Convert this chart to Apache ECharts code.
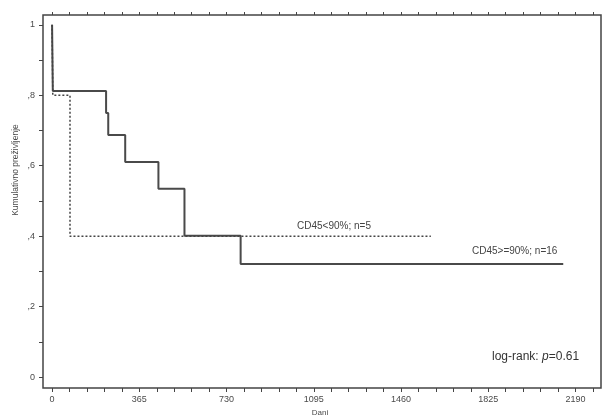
<!DOCTYPE html>
<html>
<head>
<meta charset="utf-8">
<script src="https://cdn.jsdelivr.net/npm/echarts@6/dist/echarts.min.js"></script>
<style>
  html, body { margin: 0; padding: 0; background: #fff; }
  #chart { width: 603px; height: 417px; }
</style>
</head>
<body>
<div id="chart"></div>
<script>
// Kaplan–Meier survival, days since start
const highGroupDays = [0, 1, 2, 3, 226, 235, 306, 445, 554, 789, 2139];
const highGroupSurv = [1, 0.9375, 0.875, 0.8125, 0.75, 0.6875, 0.611, 0.535, 0.401, 0.321, 0.321];
const lowGroupDays = [0, 3, 75, 1585];
const lowGroupSurv = [1, 0.8, 0.4, 0.4];

const xTickLabels = [0, 365, 730, 1095, 1460, 1825, 2190];
const xMinorTicks = [];
for (let d = 0; d <= 2190 + 73; d += 73) xMinorTicks.push(d);
const yTickLabels = [0, 0.2, 0.4, 0.6, 0.8, 1];
const yMinorTicks = [0, 0.1, 0.2, 0.3, 0.4, 0.5, 0.6, 0.7, 0.8, 0.9, 1];

const pairs = (xs, ys) => xs.map((x, i) => [x, ys[i]]);

const frameColor = '#444';
const textColor = '#4a4a4a';

const chart = echarts.init(document.getElementById('chart'), null, { renderer: 'canvas' });

chart.setOption({
  animation: false,
  backgroundColor: '#fff',
  grid: { left: 43, right: 2, top: 15, bottom: 29, show: true, borderColor: frameColor, borderWidth: 1.5 },
  xAxis: [
    {
      type: 'value', position: 'bottom', min: -38, max: 2297,
      axisLine: { show: false, onZero: false },
      splitLine: { show: false },
      axisTick: { show: true, length: 4, inside: false, customValues: xMinorTicks, lineStyle: { color: frameColor, width: 1 } },
      axisLabel: { customValues: xTickLabels, margin: 7, fontSize: 9, color: textColor, fontFamily: 'Liberation Sans', formatter: v => String(v) }
    },
    {
      type: 'value', position: 'top', min: -38, max: 2297,
      axisLine: { show: false, onZero: false },
      splitLine: { show: false },
      axisTick: { show: true, length: 3, inside: false, customValues: xMinorTicks, lineStyle: { color: frameColor, width: 1 } },
      axisLabel: { show: false }
    }
  ],
  yAxis: {
    type: 'value', min: -0.031, max: 1.028,
    axisLine: { show: false, onZero: false },
    splitLine: { show: false },
    axisTick: { show: true, length: 4, customValues: yMinorTicks, lineStyle: { color: frameColor, width: 1 } },
    axisLabel: {
      customValues: yTickLabels, margin: 8, fontSize: 9, color: textColor, fontFamily: 'Liberation Sans',
      formatter: v => (v === 0 ? '0' : v === 1 ? '1' : ',' + Math.round(v * 10))
    }
  },
  series: [
    {
      name: 'CD45>=90%', type: 'line', step: 'end', xAxisIndex: 0,
      data: pairs(highGroupDays, highGroupSurv),
      showSymbol: false, symbol: 'none',
      lineStyle: { color: '#4a4a4a', width: 2 }
    },
    {
      name: 'CD45<90%', type: 'line', step: 'end', xAxisIndex: 0,
      data: pairs(lowGroupDays, lowGroupSurv),
      showSymbol: false, symbol: 'none',
      lineStyle: { color: '#444', width: 1.5, type: [2, 2] }
    }
  ],
  graphic: [
    { type: 'text', x: 297, y: 226, style: { text: 'CD45<90%; n=5', fontSize: 10, fill: '#444', fontFamily: 'Liberation Sans', verticalAlign: 'middle' } },
    { type: 'text', x: 472, y: 251, style: { text: 'CD45>=90%; n=16', fontSize: 10, fill: '#444', fontFamily: 'Liberation Sans', verticalAlign: 'middle' } },
    {
      type: 'text', x: 492, y: 357,
      style: {
        text: '{a|log-rank: }{b|p}{a|=0.61}', verticalAlign: 'middle',
        rich: {
          a: { fontSize: 12, fill: '#333', fontFamily: 'Liberation Sans' },
          b: { fontSize: 12, fill: '#333', fontFamily: 'Liberation Sans', fontStyle: 'italic' }
        }
      }
    },
    { type: 'text', x: 320, y: 413, style: { text: 'Dani', fontSize: 8, fill: textColor, fontFamily: 'Liberation Sans', align: 'center', verticalAlign: 'middle' } },
    { type: 'text', x: 16, y: 170, rotation: Math.PI / 2, style: { text: 'Kumulativno preživljenje', fontSize: 8.5, fill: textColor, fontFamily: 'Liberation Sans', align: 'center', verticalAlign: 'middle' } }
  ]
});
</script>
</body>
</html>
